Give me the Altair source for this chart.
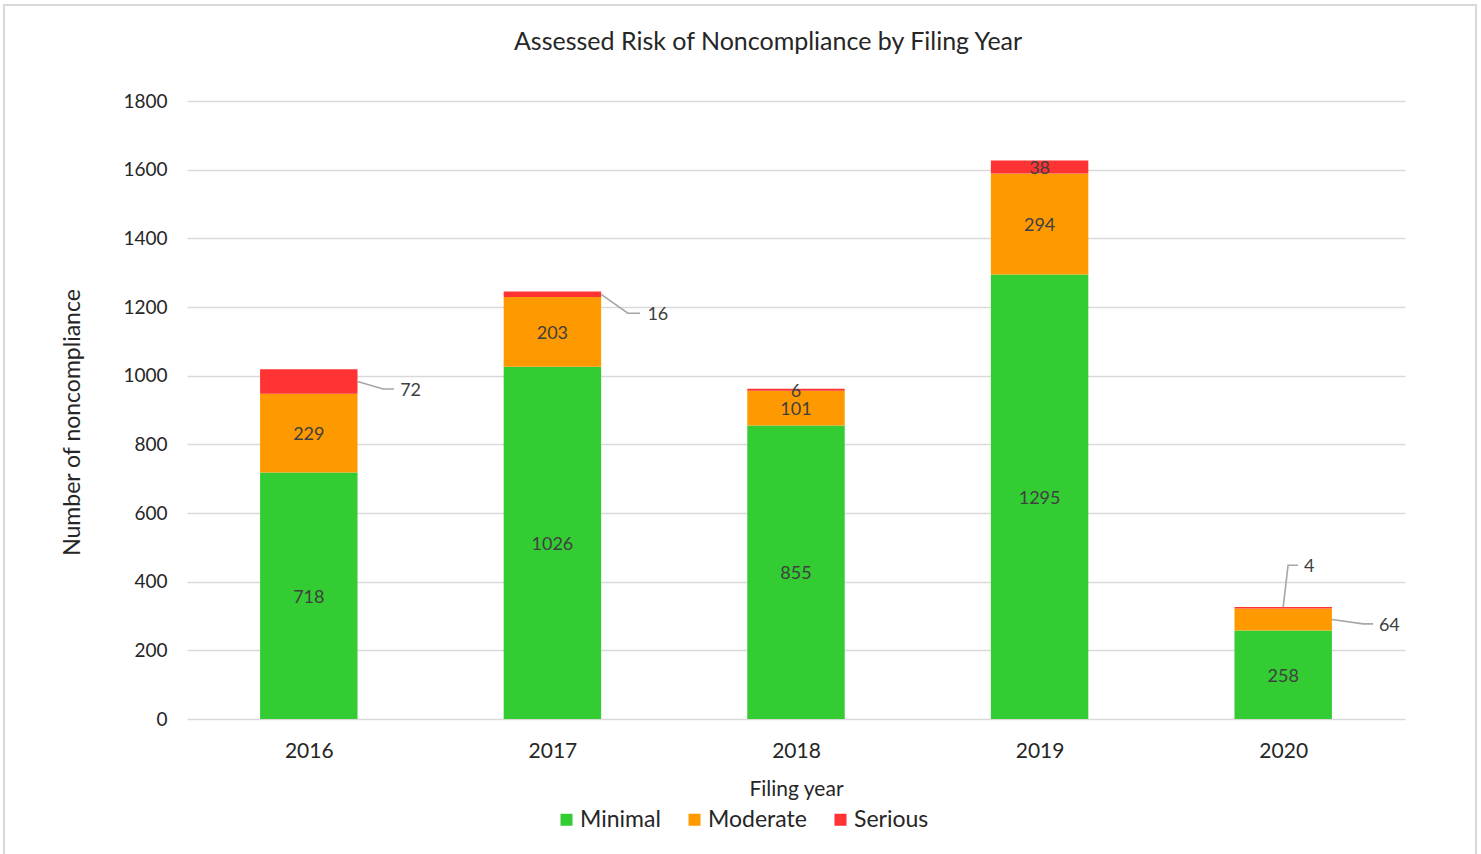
import altair as alt
import pandas as pd

# Filings per year, split by assessed risk level
years = ["2016", "2017", "2018", "2019", "2020"]
minimal = [718, 1026, 855, 1295, 258]
moderate = [229, 203, 101, 294, 64]
serious = [72, 16, 6, 38, 4]

levels = ["Minimal", "Moderate", "Serious"]
colors = ["#33CC33", "#FF9900", "#FF3333"]

TITLE = "Assessed Risk of Noncompliance by Filing Year"
FONT = "Lato"
TEXT = "#404040"
DARK = "#262626"
HALF = 0.2  # half bar width in category units

rows = []
for i, yr in enumerate(years):
    base = 0
    for k, (lvl, vals) in enumerate(zip(levels, [minimal, moderate, serious])):
        v = vals[i]
        rows.append(dict(year=yr, idx=i, level=lvl, order=k, value=v,
                         start=base, end=base + v, mid=base + v / 2))
        base += v
seg = pd.DataFrame(rows)

# Segments whose label sits outside the bar, joined to it by a leader line:
# anchor ("side" = right edge at segment middle, "top" = bar top centre),
# elbow offset (x, in category units), label height (y), line end and label offsets (x).
callouts = {
    ("2016", "Serious"): dict(anchor="side", ex=0.105, ly=961, tx=0.15, lx=0.175),
    ("2017", "Serious"): dict(anchor="side", ex=0.11, ly=1182, tx=0.16, lx=0.19),
    ("2020", "Moderate"): dict(anchor="side", ex=0.128, ly=277, tx=0.169, lx=0.193),
    ("2020", "Serious"): dict(anchor="top", ex=0.02, ly=448, tx=0.061, lx=0.085),
}

line_rows, call_rows = [], []
for n, ((yr, lvl), c) in enumerate(callouts.items()):
    r = seg[(seg.year == yr) & (seg.level == lvl)].iloc[0]
    if c["anchor"] == "side":
        ax, ay = r.idx + HALF, r.mid
    else:
        ax, ay = r.idx, r.end
    ex, tx, lx = ax + c["ex"], ax + c["tx"], ax + c["lx"]
    for s, (px, py) in enumerate([(ax, ay), (ex, c["ly"]), (tx, c["ly"])]):
        line_rows.append(dict(cid=n, seq=s, lx=px, ly=py))
    call_rows.append(dict(label=str(int(r.value)), lx=lx, ly=c["ly"]))
lines = pd.DataFrame(line_rows)
calls = pd.DataFrame(call_rows)

inside = seg[[(y, l) not in callouts for y, l in zip(seg.year, seg.level)]]

x_scale = alt.Scale(domain=[-0.5, len(years) - 0.5], nice=False, zero=False)
y_scale = alt.Scale(domain=[0, 1800], nice=False)
label_expr = "[" + ",".join(f"'{y}'" for y in years) + "][datum.value]"

x_axis = alt.Axis(values=list(range(len(years))), labelExpr=label_expr, grid=False,
                  ticks=False, domain=False, labelFontSize=21, labelColor=DARK,
                  labelPadding=21, title="Filing year", titleFontSize=21,
                  titleFontWeight="normal", titleColor=DARK, titleY=70,
                  titleBaseline="middle")
y_axis = alt.Axis(values=list(range(0, 1801, 200)), format="d", grid=True,
                  gridColor="#d9d9d9", gridWidth=1.5, ticks=False, domain=False,
                  labelFontSize=19, labelColor=DARK, labelPadding=20,
                  title="Number of noncompliance", titleFontSize=23,
                  titleFontWeight="normal", titleColor=DARK,
                  titleX=-115, titleY=321, titleAngle=-90, titleBaseline="middle",
                  titleAlign="center")

bars = alt.Chart(seg).transform_calculate(
    x0=f"datum.idx - {HALF}", x1=f"datum.idx + {HALF}"
).mark_bar(stroke=None).encode(
    x=alt.X("x0:Q", scale=x_scale, axis=x_axis),
    x2="x1:Q",
    y=alt.Y("start:Q", scale=y_scale, axis=y_axis),
    y2="end:Q",
    color=alt.Color("level:N", scale=alt.Scale(domain=levels, range=colors),
                    legend=alt.Legend(title=None, orient="none", direction="horizontal",
                                      legendX=368, legendY=707, symbolType="square",
                                      symbolSize=144, symbolStrokeWidth=0,
                                      labelFontSize=23, labelColor=DARK,
                                      labelFont=FONT, labelOffset=2, columnPadding=22)),
)

inner_labels = alt.Chart(inside).mark_text(
    font=FONT, fontSize=18, color=TEXT, align="center", baseline="middle", dy=2
).encode(
    x=alt.X("idx:Q", scale=x_scale), y=alt.Y("mid:Q", scale=y_scale), text="value:Q"
)

leaders = alt.Chart(lines).mark_line(color="#a6a6a6", strokeWidth=1.6).encode(
    x=alt.X("lx:Q", scale=x_scale), y=alt.Y("ly:Q", scale=y_scale),
    detail="cid:N", order="seq:Q"
)

outer_labels = alt.Chart(calls).mark_text(
    font=FONT, fontSize=18, color=TEXT, align="left", baseline="middle", dy=2
).encode(
    x=alt.X("lx:Q", scale=x_scale), y=alt.Y("ly:Q", scale=y_scale), text="label:N"
)

# Outer chart border and heading, placed relative to the plot area
single = pd.DataFrame({"f": [0]})
frame = alt.Chart(single).mark_rect(
    fill="transparent", stroke="#d9d9d9", strokeWidth=2
).encode(
    x=alt.value(-183), x2=alt.value(1289), y=alt.value(-96), y2=alt.value(770)
)
heading = alt.Chart(single).mark_text(
    font=FONT, fontSize=25, color=DARK, align="center", baseline="middle"
).encode(
    x=alt.value(581), y=alt.value(-59), text=alt.value(TITLE)
)

chart = alt.layer(frame, heading, bars, inner_labels, leaders, outer_labels).properties(
    width=1218, height=618,
    autosize=alt.AutoSizeParams(type="none"),
    padding={"left": 187, "top": 101, "right": 76, "bottom": 135},
    background="white",
).configure_view(stroke=None).configure_axis(labelFont=FONT, titleFont=FONT)

chart.save("out.html", embed_options={"renderer": "svg", "actions": False})
